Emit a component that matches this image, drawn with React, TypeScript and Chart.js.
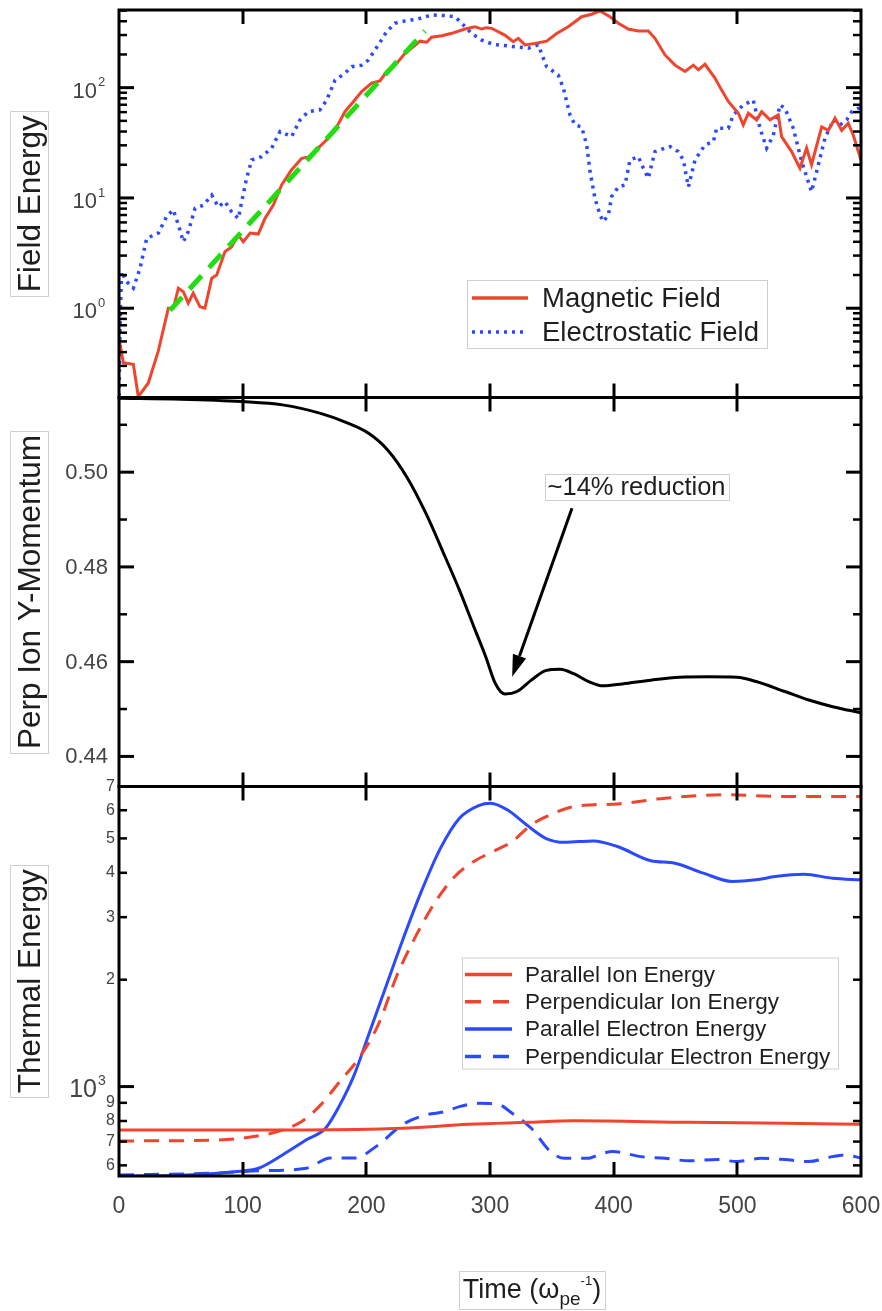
import React, { useEffect, useRef } from 'react';
import { Chart, registerables } from 'chart.js';

Chart.register(...registerables);

const WIDTH = 882;
const HEIGHT = 1311;
const FONT = '"Liberation Sans", Arial, Helvetica, sans-serif';
const RED = '#ef452f';
const BLUE = '#2b49ff';
const GREEN = '#22dd11';
const INK = '#1e1e1e';
const TICK_INK = '#444444';
const BOX_EDGE = '#cfcfcf';

// Shared time axis
const timeTicks = [0, 100, 200, 300, 400, 500, 600];
const TIME_MIN = 0;
const TIME_MAX = 600;

// Top panel: field energy (log scale)
const FIELD_MIN = 0.155;
const FIELD_MAX = 506;
const magneticTime = [
  0, 3.5, 11.6, 15.6, 23.7, 31.8, 39.9, 44, 48, 52, 56, 60, 65.5, 69.5, 75, 79, 85.7, 91, 96.5, 100.5,
  106, 112.6, 118, 124.8, 131.5, 139.6, 147.7, 154.4, 161, 169.2, 176, 182.7, 189.5, 196.2, 204.3, 211,
  216.4, 224.5, 231.3, 238, 243.4, 248.8, 252.8, 261, 269, 279.8, 287.9, 293.3, 297, 301.4, 304, 312,
  318.8, 322.9, 328.3, 336.4, 345.8, 353.9, 363.3, 374.1, 382.2, 389, 397, 403.8, 411.8, 419.9, 428,
  433.4, 441.5, 449.6, 457.7, 464.4, 468.5, 473.8, 481.9, 487.3, 492.7, 500.8, 504.8, 508.9, 515.6,
  519.7, 526.4, 533.1, 535.8, 543.9, 550.6, 556, 560, 568.2, 573.6, 579, 584.4, 589.7, 593.8, 600,
];
const magneticEnergy = [
  0.53, 0.32, 0.31, 0.158, 0.21, 0.41, 1.0, 1.0, 1.52, 1.41, 1.11, 1.37, 1.03, 1.0, 1.87, 2.0, 3.26, 3.6, 4.6, 4.0,
  4.8, 4.7, 6.5, 8.6, 13.1, 18, 22.9, 23.7, 28.3, 34.8, 44, 60.5, 74.6, 92, 110, 115,
  140, 166, 205, 235, 264, 258, 287, 296, 311, 340, 357, 340, 350, 345, 333, 300,
  261, 280, 244, 252, 264, 310, 357, 440, 463, 496, 440, 384, 340, 326, 326,
  280, 198, 160, 140, 160, 145, 163, 122, 95, 75, 58.6, 46, 58.6, 51,
  60.5, 51, 56.5, 36, 26.3, 18.6, 28.3, 20, 44, 41, 53, 41, 47.6, 37, 22,
];
const electroTime = [
  0, 1, 2.2, 6.2, 11.6, 17, 22.4, 31.8, 38.6, 43.9, 48, 52, 56, 61.5, 68.2, 75, 80.3, 85.7, 91, 96.5,
  99.2, 103.2, 107.3, 115.4, 123.5, 130.2, 139.6, 146.4, 153, 162.5, 167.9, 174.7, 182.7, 188.2, 196.2,
  201.6, 209.7, 216.4, 223.2, 231.3, 242, 252.8, 263.6, 271.7, 277.1, 285.2, 293.3, 301.4, 306.7, 320.2,
  331, 339, 345.8, 355.2, 359.3, 364.7, 368.7, 374.1, 378.2, 380.9, 384.9, 389, 391.6, 395.7, 398.4,
  403.8, 409.2, 413.2, 419.9, 424, 428, 433.4, 441.5, 445.5, 452.3, 456.3, 460.4, 465.8, 473.8, 480.6,
  483.3, 492.7, 496.7, 504.8, 512.9, 518.3, 523.7, 529.1, 534.5, 538.5, 545.2, 552, 560, 565.5, 570.9,
  577.6, 583, 588.4, 592.4, 597.8, 600,
];
const electroEnergy = [
  0.16, 0.9, 2.15, 1.74, 1.52, 2.3, 4.3, 4.8, 6.8, 7.8, 5.7, 4.0, 4.95, 8.05, 8.6, 10.6, 8.3, 9.25, 7.5, 6.5,
  9.25, 15.1, 22.1, 23.7, 28.3, 40, 36, 51, 60.5, 63, 77, 117, 135, 155, 160,
  178, 244, 322, 384, 403, 420, 457, 450, 440, 384, 310, 270, 250, 244, 235,
  228, 244, 155, 130, 99, 56.5, 46, 44, 30.2, 17.3, 9.9, 7.0, 6.1, 7.0, 10.3,
  12.6, 13.1, 22.1, 23.7, 18.6, 15.1, 26.3, 28.3, 29.2, 26.3, 22.1, 12.6, 22.1, 30.2, 32.4,
  42.9, 42.9, 56.5, 69.7, 77, 42.9, 28.3, 37, 69.7, 65, 42.9, 21.4, 11.4, 20, 34.8,
  51, 46, 51, 60.5, 65, 66,
];
// Exponential growth fit
const growthFitTime = [41.2, 247.4];
const growthFitEnergy = [0.955, 326];
const fieldMajorTicks = [1, 10, 100];
const fieldTickExponents = ['0', '1', '2'];

// Middle panel: perpendicular ion y-momentum (linear)
const MOMENTUM_MIN = 0.43365;
const MOMENTUM_MAX = 0.51576;
const momentumTime = [
  0, 50, 99.3, 132.2, 163, 182.5, 201.8, 217.2, 232.7, 248.2, 263.6, 275.3, 286.9, 296.6, 304.3, 312.1,
  321.8, 333.4, 345, 356.6, 368.2, 379.8, 391.4, 406.9, 430.1, 453.3, 476.5, 499.7, 515.2, 538.4, 557.8,
  577.1, 600,
];
const momentumValue = [
  0.5156, 0.5154, 0.5149, 0.5142, 0.5124, 0.5106, 0.5082, 0.5047, 0.499, 0.4913, 0.4822, 0.4751, 0.4674,
  0.461, 0.4554, 0.4532, 0.4537, 0.4561, 0.4581, 0.4584, 0.4574, 0.4558, 0.4549, 0.4553, 0.4561, 0.4567,
  0.4568, 0.4567, 0.4558, 0.4537, 0.4519, 0.4505, 0.4492,
];
const momentumMajorTicks = [0.44, 0.46, 0.48, 0.5];
const momentumTickLabels = ['0.44', '0.46', '0.48', '0.50'];
const momentumMinorTicks = [0.45, 0.47, 0.49, 0.51];

// Bottom panel: thermal energy (log scale)
const THERMAL_MIN = 560;
const THERMAL_MAX = 7000;
const parIonTime = [0, 150, 229, 283, 330, 368, 461, 538, 600];
const parIonEnergy = [755, 755, 763, 783, 793, 801, 793, 788, 783];
const perpIonTime = [
  0, 74, 109, 128.3, 147.7, 163.1, 178.5, 194, 209.6, 225, 240.5, 256, 271.5, 287, 302.4, 317.9, 333.4,
  348.9, 364.3, 383.7, 403, 441.7, 492, 538.4, 600,
];
const perpIonEnergy = [
  703, 706, 723, 747, 797, 888, 1033, 1202, 1493, 2065, 2675, 3320, 3905, 4305, 4593, 4900, 5460,
  5825, 6110, 6217, 6250, 6490, 6633, 6560, 6560,
];
const parElecTime = [
  0, 54.8, 93.5, 112.8, 132.2, 151.5, 167, 178.6, 190.2, 201.8, 213.4, 228.9, 244.4, 259.9, 275.3, 290.8,
  300.5, 314, 329.5, 345, 360.5, 383.7, 403, 430.1, 449.4, 472.6, 495.8, 515.1, 530.6, 553.8, 577, 600,
];
const parElecEnergy = [
  558, 564, 576, 589, 642, 708, 763, 888, 1079, 1398, 1811, 2559, 3539, 4688, 5700, 6187,
  6283, 6018, 5460, 5004, 4875, 4920, 4743, 4325, 4257, 3990, 3781, 3821, 3905, 3963, 3862, 3821,
];
const perpElecTime = [
  0, 74, 112.8, 151.5, 170.9, 190.2, 209.6, 228.9, 248.2, 263.6, 275.3, 290.8, 306.3, 317.9, 333.4, 348.9,
  360.5, 379.8, 387.5, 399.1, 422.3, 441.7, 461, 484.2, 499.7, 519.1, 538.4, 557.7, 577, 588.7, 600,
];
const perpElecEnergy = [
  564, 570, 579, 589, 629, 629, 685, 780, 832, 850, 878, 897, 892, 841, 763, 656,
  628, 628, 642, 656, 635, 628, 618, 623, 615, 628, 623, 615, 635, 642, 628,
];
const thermalMajorTicks = [1000];
const thermalMajorExponents = ['3'];
const thermalMinorTicks = [600, 700, 800, 900, 2000, 3000, 4000, 5000, 6000, 7000];
const thermalMinorLabels = ['6', '7', '8', '9', '2', '3', '4', '5', '6', '7'];

// Axis titles and legends
const panelTitles = ['Field Energy', 'Perp Ion Y-Momentum', 'Thermal Energy'];
const fieldLegend = [
  { label: 'Magnetic Field', color: RED, dash: [] as number[] },
  { label: 'Electrostatic Field', color: BLUE, dash: [3, 5] },
];
const thermalLegend = [
  { label: 'Parallel Ion Energy', color: RED, dash: [] as number[] },
  { label: 'Perpendicular Ion Energy', color: RED, dash: [16, 12] },
  { label: 'Parallel Electron Energy', color: BLUE, dash: [] as number[] },
  { label: 'Perpendicular Electron Energy', color: BLUE, dash: [16, 12] },
];

// Annotation on the momentum panel
const reductionLabel = '~14% reduction';
const reductionLabelAt = { t: 418.5, v: 0.4968 };
const reductionArrowFrom = { t: 366.3, v: 0.4924 };
const reductionArrowTo = { t: 317.9, v: 0.4568 };

const points = (ts: number[], vs: number[]) => ts.map((t, i) => ({ x: t, y: vs[i] }));

function logMinorTicks(min: number, max: number) {
  const out: number[] = [];
  for (let e = Math.floor(Math.log10(min)); e <= Math.ceil(Math.log10(max)); e++) {
    for (let m = 2; m <= 9; m++) {
      const v = m * Math.pow(10, e);
      if (v >= min && v <= max) out.push(v);
    }
  }
  return out;
}

function seg(ctx: CanvasRenderingContext2D, x1: number, y1: number, x2: number, y2: number) {
  ctx.beginPath();
  ctx.moveTo(x1, y1);
  ctx.lineTo(x2, y2);
  ctx.stroke();
}

function font(size: number) {
  return `${size}px ${FONT}`;
}

function drawPowerLabel(ctx: CanvasRenderingContext2D, right: number, y: number, base: string, exp: string, size: number, expSize: number) {
  ctx.fillStyle = TICK_INK;
  ctx.textBaseline = 'middle';
  ctx.textAlign = 'right';
  ctx.font = font(size);
  ctx.fillText(base, right, y + 4);
  ctx.textAlign = 'left';
  ctx.font = font(expSize);
  ctx.fillText(exp, right + 1, y - 5);
}

function drawLegend(ctx: CanvasRenderingContext2D, items: any[], box: any) {
  ctx.save();
  ctx.fillStyle = '#ffffff';
  ctx.fillRect(box.x, box.y, box.w, box.h);
  ctx.strokeStyle = BOX_EDGE;
  ctx.lineWidth = 1;
  ctx.strokeRect(box.x + 0.5, box.y + 0.5, box.w, box.h);
  items.forEach((it, i) => {
    const y = box.firstRow + i * box.rowGap;
    ctx.strokeStyle = it.color;
    ctx.lineWidth = 3.5;
    ctx.setLineDash(it.dash);
    seg(ctx, box.x + box.sampleFrom, y, box.x + box.sampleTo, y);
    ctx.setLineDash([]);
    ctx.fillStyle = INK;
    ctx.font = font(box.fontSize);
    ctx.textAlign = 'left';
    ctx.textBaseline = 'middle';
    ctx.fillText(it.label, box.x + box.textAt, y + 1);
  });
  ctx.restore();
}

const decorPlugin = {
  id: 'panelDecor',
  afterDatasetsDraw(chart: any) {
    const ctx: CanvasRenderingContext2D = chart.ctx;
    const xs = chart.scales.x;
    const yField = chart.scales.yField;
    const yMom = chart.scales.yMom;
    const yTherm = chart.scales.yTherm;
    const L = xs.left;
    const R = xs.right;
    const panels = [
      { s: yField, major: fieldMajorTicks, minor: logMinorTicks(FIELD_MIN, FIELD_MAX) },
      { s: yMom, major: momentumMajorTicks, minor: momentumMinorTicks },
      { s: yTherm, major: thermalMajorTicks, minor: thermalMinorTicks },
    ];

    ctx.save();
    ctx.strokeStyle = '#000';
    ctx.lineCap = 'butt';
    panels.forEach(({ s, major, minor }) => {
      const T = s.top;
      const B = s.bottom;
      ctx.lineWidth = 3;
      timeTicks.forEach((t) => {
        if (t <= TIME_MIN || t >= TIME_MAX) return;
        const px = Math.round(xs.getPixelForValue(t));
        seg(ctx, px, T, px, T + 14);
        seg(ctx, px, B, px, B - 14);
      });
      major.forEach((v) => {
        const py = s.getPixelForValue(v);
        seg(ctx, L, py, L + 15, py);
        seg(ctx, R, py, R - 15, py);
      });
      ctx.lineWidth = 2.5;
      minor.forEach((v) => {
        const py = s.getPixelForValue(v);
        seg(ctx, L, py, L + 8, py);
        seg(ctx, R, py, R - 8, py);
      });
      ctx.lineWidth = 3;
      ctx.strokeRect(L, T, R - L, B - T);
    });

    // y tick labels
    fieldMajorTicks.forEach((v, i) => {
      drawPowerLabel(ctx, L - 22, yField.getPixelForValue(v), '10', fieldTickExponents[i], 22, 13);
    });
    ctx.fillStyle = TICK_INK;
    ctx.font = font(22);
    ctx.textAlign = 'right';
    ctx.textBaseline = 'middle';
    momentumMajorTicks.forEach((v, i) => {
      ctx.fillText(momentumTickLabels[i], L - 11, yMom.getPixelForValue(v) + 1);
    });
    thermalMajorTicks.forEach((v, i) => {
      drawPowerLabel(ctx, L - 22, yTherm.getPixelForValue(v), '10', thermalMajorExponents[i], 25, 14);
    });
    ctx.fillStyle = TICK_INK;
    ctx.font = font(16);
    ctx.textAlign = 'right';
    ctx.textBaseline = 'middle';
    thermalMinorTicks.forEach((v, i) => {
      ctx.fillText(thermalMinorLabels[i], L - 4, yTherm.getPixelForValue(v));
    });

    // boxed, rotated panel titles
    [yField, yMom, yTherm].forEach((s, i) => {
      const cy = (s.top + s.bottom) / 2;
      ctx.font = font(31.5);
      const w = ctx.measureText(panelTitles[i]).width;
      ctx.strokeStyle = BOX_EDGE;
      ctx.lineWidth = 1;
      ctx.strokeRect(10.5, Math.round(cy - w / 2 - 4) + 0.5, 38, Math.round(w + 8));
      ctx.save();
      ctx.translate(30, cy);
      ctx.rotate(-Math.PI / 2);
      ctx.fillStyle = INK;
      ctx.textAlign = 'center';
      ctx.textBaseline = 'middle';
      ctx.fillText(panelTitles[i], 0, 1);
      ctx.restore();
    });

    // legends
    drawLegend(ctx, fieldLegend, {
      x: R - 394, y: yField.top + 270, w: 300, h: 68,
      firstRow: yField.top + 288, rowGap: 34, sampleFrom: 5, sampleTo: 61, textAt: 75, fontSize: 27.5,
    });
    drawLegend(ctx, thermalLegend, {
      x: R - 399, y: yTherm.top + 171, w: 376, h: 111,
      firstRow: yTherm.top + 188, rowGap: 27.3, sampleFrom: 3, sampleTo: 50, textAt: 63, fontSize: 22.5,
    });

    // reduction annotation
    const lx = xs.getPixelForValue(reductionLabelAt.t);
    const ly = yMom.getPixelForValue(reductionLabelAt.v);
    ctx.font = font(25.5);
    const tw = ctx.measureText(reductionLabel).width;
    ctx.strokeStyle = BOX_EDGE;
    ctx.lineWidth = 1;
    ctx.strokeRect(Math.round(lx - tw / 2 - 3) + 0.5, Math.round(ly - 13) + 0.5, Math.round(tw + 6), 26);
    ctx.fillStyle = INK;
    ctx.textAlign = 'center';
    ctx.textBaseline = 'middle';
    ctx.fillText(reductionLabel, lx, ly + 1);

    const ax1 = xs.getPixelForValue(reductionArrowFrom.t);
    const ay1 = yMom.getPixelForValue(reductionArrowFrom.v);
    const ax2 = xs.getPixelForValue(reductionArrowTo.t);
    const ay2 = yMom.getPixelForValue(reductionArrowTo.v);
    const ang = Math.atan2(ay2 - ay1, ax2 - ax1);
    const headLen = 22;
    const headHalf = 7;
    const bx = ax2 - headLen * Math.cos(ang);
    const by = ay2 - headLen * Math.sin(ang);
    ctx.strokeStyle = '#000';
    ctx.lineWidth = 3;
    seg(ctx, ax1, ay1, bx, by);
    ctx.fillStyle = '#000';
    ctx.beginPath();
    ctx.moveTo(ax2, ay2);
    ctx.lineTo(bx + headHalf * Math.sin(ang), by - headHalf * Math.cos(ang));
    ctx.lineTo(bx - headHalf * Math.sin(ang), by + headHalf * Math.cos(ang));
    ctx.closePath();
    ctx.fill();

    // time axis title with subscript and superscript
    const parts = [
      { text: 'Time (\u03c9', size: 27, dy: 0 },
      { text: 'pe', size: 19, dy: 7 },
      { text: '-1', size: 13, dy: -13 },
      { text: ')', size: 27, dy: 0 },
    ];
    let total = 0;
    const widths = parts.map((p) => {
      ctx.font = font(p.size);
      const w = ctx.measureText(p.text).width;
      total += w;
      return w;
    });
    const baseY = chart.height - 13;
    let cx = L + 413 - total / 2;
    ctx.strokeStyle = BOX_EDGE;
    ctx.lineWidth = 1;
    ctx.strokeRect(Math.round(cx - 4) + 0.5, baseY - 26.5, Math.round(total + 8), 38);
    ctx.fillStyle = INK;
    ctx.textAlign = 'left';
    ctx.textBaseline = 'alphabetic';
    parts.forEach((p, i) => {
      ctx.font = font(p.size);
      ctx.fillText(p.text, cx, baseY + p.dy);
      cx += widths[i];
    });
    ctx.restore();
  },
};

export default function App() {
  const canvasRef = useRef<HTMLCanvasElement | null>(null);

  useEffect(() => {
    const canvas = canvasRef.current;
    if (!canvas) return;
    const hidden = { display: false };
    const chart = new Chart(canvas, {
      type: 'line',
      data: {
        datasets: [
          {
            label: 'Growth fit',
            data: points(growthFitTime, growthFitEnergy),
            yAxisID: 'yField',
            borderColor: GREEN,
            borderWidth: 5,
            borderDash: [18, 11],
            pointRadius: 0,
            tension: 0,
          },
          {
            label: 'Magnetic Field',
            data: points(magneticTime, magneticEnergy),
            yAxisID: 'yField',
            borderColor: RED,
            borderWidth: 3,
            pointRadius: 0,
            tension: 0,
          },
          {
            label: 'Electrostatic Field',
            data: points(electroTime, electroEnergy),
            yAxisID: 'yField',
            borderColor: BLUE,
            borderWidth: 3.5,
            borderDash: [3, 5],
            pointRadius: 0,
            tension: 0,
          },
          {
            label: 'Perp Ion Y-Momentum',
            data: points(momentumTime, momentumValue),
            yAxisID: 'yMom',
            borderColor: '#000000',
            borderWidth: 3,
            pointRadius: 0,
            cubicInterpolationMode: 'monotone',
          },
          {
            label: 'Parallel Ion Energy',
            data: points(parIonTime, parIonEnergy),
            yAxisID: 'yTherm',
            borderColor: RED,
            borderWidth: 3,
            pointRadius: 0,
            cubicInterpolationMode: 'monotone',
          },
          {
            label: 'Perpendicular Ion Energy',
            data: points(perpIonTime, perpIonEnergy),
            yAxisID: 'yTherm',
            borderColor: RED,
            borderWidth: 3,
            borderDash: [15, 10],
            pointRadius: 0,
            cubicInterpolationMode: 'monotone',
          },
          {
            label: 'Parallel Electron Energy',
            data: points(parElecTime, parElecEnergy),
            yAxisID: 'yTherm',
            borderColor: BLUE,
            borderWidth: 3,
            pointRadius: 0,
            cubicInterpolationMode: 'monotone',
          },
          {
            label: 'Perpendicular Electron Energy',
            data: points(perpElecTime, perpElecEnergy),
            yAxisID: 'yTherm',
            borderColor: BLUE,
            borderWidth: 3,
            borderDash: [15, 10],
            pointRadius: 0,
            cubicInterpolationMode: 'monotone',
          },
        ],
      },
      options: {
        animation: false,
        responsive: false,
        devicePixelRatio: 1,
        events: [],
        layout: { padding: { top: 10, right: 21, left: 0, bottom: 0 } },
        plugins: { legend: hidden, tooltip: { enabled: false }, title: hidden },
        scales: {
          x: {
            type: 'linear',
            min: TIME_MIN,
            max: TIME_MAX,
            grid: { display: false, drawTicks: false },
            border: hidden,
            afterBuildTicks: (s: any) => {
              s.ticks = timeTicks.map((v) => ({ value: v }));
            },
            afterFit: (s: any) => {
              s.height = 135;
              s.paddingLeft = 0;
              s.paddingRight = 0;
            },
            ticks: {
              autoSkip: false,
              maxRotation: 0,
              padding: 17,
              color: TICK_INK,
              font: { family: FONT, size: 23 },
              callback: (v: any) => String(v),
            },
          },
          yField: {
            type: 'logarithmic',
            position: 'left',
            stack: 'panels',
            stackWeight: 387.5,
            weight: 3,
            min: FIELD_MIN,
            max: FIELD_MAX,
            grid: hidden,
            border: hidden,
            ticks: hidden,
            afterFit: (s: any) => {
              s.width = 119;
              s.paddingTop = 0;
              s.paddingBottom = 0;
            },
          },
          yMom: {
            type: 'linear',
            position: 'left',
            stack: 'panels',
            stackWeight: 389,
            weight: 2,
            min: MOMENTUM_MIN,
            max: MOMENTUM_MAX,
            grid: hidden,
            border: hidden,
            ticks: hidden,
            afterFit: (s: any) => {
              s.width = 119;
              s.paddingTop = 0;
              s.paddingBottom = 0;
            },
          },
          yTherm: {
            type: 'logarithmic',
            position: 'left',
            stack: 'panels',
            stackWeight: 389.5,
            weight: 1,
            min: THERMAL_MIN,
            max: THERMAL_MAX,
            grid: hidden,
            border: hidden,
            ticks: hidden,
            afterFit: (s: any) => {
              s.width = 119;
              s.paddingTop = 0;
              s.paddingBottom = 0;
            },
          },
        },
      } as any,
      plugins: [decorPlugin],
    });
    return () => chart.destroy();
  }, []);

  return (
    <div style={{ position: 'absolute', left: 0, top: 0, width: WIDTH, height: HEIGHT, background: '#fff' }}>
      <canvas ref={canvasRef} width={WIDTH} height={HEIGHT} style={{ display: 'block' }} />
    </div>
  );
}
